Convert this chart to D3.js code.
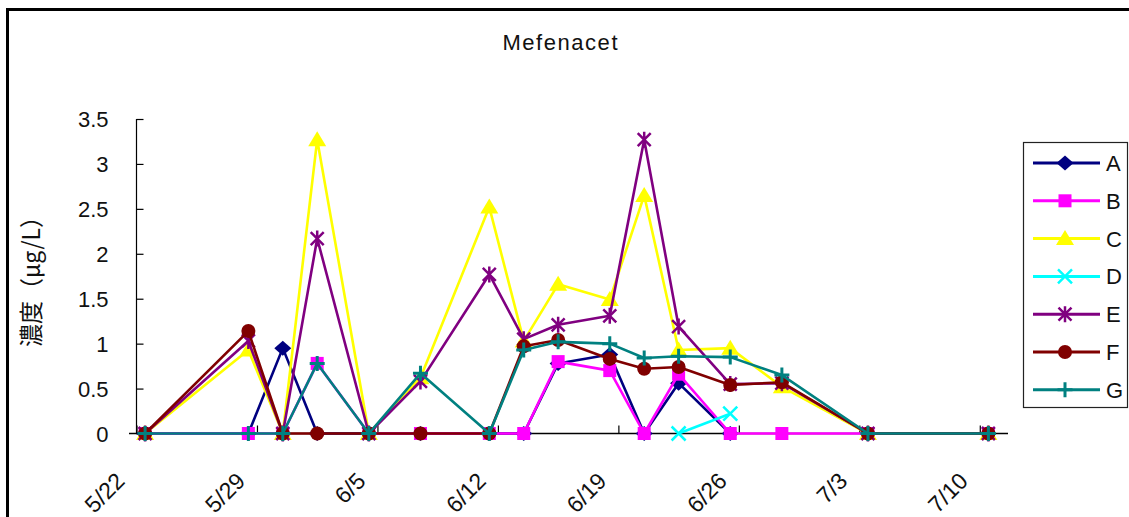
<!DOCTYPE html>
<html><head><meta charset="utf-8">
<script src="https://cdn.jsdelivr.net/npm/d3@7"></script>
<style>body{margin:0;background:#fff}svg{display:block}text{font-family:"Liberation Sans",Arial,sans-serif;fill:#111}</style>
</head><body>
<svg id="c" width="1129" height="517"></svg>
<script>
const title = "Mefenacet";
const yTitle = "濃度（μg/L）";
const dates = ["5/22","5/28","5/30","6/1","6/4","6/7","6/11","6/13","6/15","6/18","6/20","6/22","6/25","6/28","7/3","7/10"];
const seriesNames = ["A","B","C","D","E","F","G"];
const valuesA = [0,0,0.95,0,0,0,0,0,0.78,0.88,0,0.56,0,null,null,null];
const valuesB = [0,0,0,0.78,0,0,0,0,0.80,0.70,0,0.66,0,0,0,0];
const valuesC = [0,0.93,0,3.27,0,0.62,2.52,1.03,1.66,1.49,2.65,0.93,0.95,0.52,0,0];
const valuesD = [null,null,null,null,null,null,null,null,null,null,null,0,0.22,null,null,null];
const valuesE = [0,1.03,0,2.17,0,0.58,1.77,1.05,1.21,1.31,3.27,1.19,0.55,0.56,0,0];
const valuesF = [0,1.14,0,0,0,0,0,0.97,1.04,0.83,0.72,0.74,0.54,0.57,0,0];
const valuesG = [0,0,0,0.78,0,0.67,0,0.93,1.02,1.00,0.84,0.86,0.85,0.65,0,0];
const xTickLabels = ["5/22","5/29","6/5","6/12","6/19","6/26","7/3","7/10"];
const yTickValues = [0,0.5,1,1.5,2,2.5,3,3.5];

const colors = ["#000080","#ff00ff","#ffff00","#00ffff","#800080","#800000","#008080"];
const markers = ["diamond","square","triangle","x","star","circle","plus"];
const allValues = [valuesA,valuesB,valuesC,valuesD,valuesE,valuesF,valuesG];

function md(s, hour){ const [m,d]=s.split("/").map(Number); return new Date(2000,m-1,d,hour||0); }

const svg = d3.select("#c");
svg.append("rect").attr("x",7.5).attr("y",9.5).attr("width",1200).attr("height",600)
  .attr("fill","#fff").attr("stroke","#000").attr("stroke-width",3);

const dayPx = 17.21;
const x0 = 136.5;
const x = d3.scaleTime().domain([md("5/22"), md("7/12")]).range([x0, x0 + 51*dayPx]);
const y = d3.scaleLinear().domain([0,3.5]).range([433.5,119]);

// title
svg.append("text").attr("x",560).attr("y",50).attr("text-anchor","middle")
  .attr("font-size",22).attr("textLength",115).attr("lengthAdjust","spacing").text(title);

// y title
svg.append("text").attr("transform","translate(40,276) rotate(-90)").attr("text-anchor","middle")
  .attr("font-size",24).attr("textLength",142).attr("lengthAdjust","spacingAndGlyphs")
  .style("font-family","'Noto Sans CJK JP',sans-serif").attr("fill","#222").text(yTitle);

// y axis
const yAxis = d3.axisLeft(y).tickValues(yTickValues).tickSize(-7).tickPadding(28).tickFormat(d=>String(d));
const gy = svg.append("g").attr("transform",`translate(${x0},0)`).call(yAxis);
gy.select(".domain").remove();
gy.selectAll(".tick line").attr("stroke","#000").attr("stroke-width",1.2);
gy.selectAll("text").attr("font-size",22).attr("dy","0.36em").style("font-family","'Liberation Sans',Arial,sans-serif").attr("fill","#111");
svg.append("line").attr("x1",x0).attr("x2",x0).attr("y1",y(3.5)).attr("y2",y(0)).attr("stroke","#000").attr("stroke-width",1.2);

// x axis line + ticks
svg.append("line").attr("x1",129).attr("x2",1008).attr("y1",y(0)).attr("y2",y(0)).attr("stroke","#000").attr("stroke-width",1.5);
const xTickDates = xTickLabels.map(s=>md(s));
const xAxis = d3.axisBottom(x).tickValues(xTickDates).tickSize(-8).tickFormat((d,i)=>xTickLabels[i]);
const gx = svg.append("g").attr("transform",`translate(0,${y(0)})`).call(xAxis);
gx.select(".domain").remove();
gx.selectAll(".tick line").attr("stroke","#000").attr("stroke-width",1.2);
gx.selectAll("text").attr("font-size",23).attr("text-anchor","end").attr("y",0).attr("dy",0)
  .attr("transform","translate(-11,49) rotate(-45)").style("font-family","'Liberation Sans',Arial,sans-serif").attr("fill","#111");

function drawMarker(g, type, color, cx, cy, scale){
  const s = scale||1;
  if(type==="diamond"){
    g.append("path").attr("d",`M${cx},${cy-7.5*s}L${cx+8.5*s},${cy}L${cx},${cy+7.5*s}L${cx-8.5*s},${cy}Z`).attr("fill",color);
  } else if(type==="square"){
    g.append("rect").attr("x",cx-6.5*s).attr("y",cy-6.5*s).attr("width",13*s).attr("height",13*s).attr("fill",color);
  } else if(type==="triangle"){
    g.append("path").attr("d",`M${cx},${cy-8.5*s}L${cx+9*s},${cy+6.5*s}L${cx-9*s},${cy+6.5*s}Z`).attr("fill",color);
  } else if(type==="x"){
    g.append("path").attr("d",`M${cx-7*s},${cy-7*s}L${cx+7*s},${cy+7*s}M${cx-7*s},${cy+7*s}L${cx+7*s},${cy-7*s}`).attr("stroke",color).attr("stroke-width",2.5).attr("fill","none");
  } else if(type==="star"){
    g.append("path").attr("d",`M${cx-6.5*s},${cy-6.5*s}L${cx+6.5*s},${cy+6.5*s}M${cx-6.5*s},${cy+6.5*s}L${cx+6.5*s},${cy-6.5*s}M${cx},${cy-8*s}L${cx},${cy+8*s}`).attr("stroke",color).attr("stroke-width",2.5).attr("fill","none");
  } else if(type==="circle"){
    g.append("circle").attr("cx",cx).attr("cy",cy).attr("r",7*s).attr("fill",color);
  } else if(type==="plus"){
    g.append("path").attr("d",`M${cx-7.5*s},${cy}L${cx+7.5*s},${cy}M${cx},${cy-7.5*s}L${cx},${cy+7.5*s}`).attr("stroke",color).attr("stroke-width",3).attr("fill","none");
  }
}

const line = d3.line().defined(d=>d.v!=null).x(d=>x(d.date)).y(d=>y(d.v));
seriesNames.forEach((name,i)=>{
  const pts = dates.map((s,j)=>({date:md(s,12), v:allValues[i][j]}));
  const g = svg.append("g");
  g.append("path").datum(pts).attr("d",line).attr("fill","none").attr("stroke",colors[i]).attr("stroke-width",2.6).attr("stroke-linejoin","round");
  pts.filter(p=>p.v!=null).forEach(p=>drawMarker(g, markers[i], colors[i], x(p.date), y(p.v)));
});

// legend
const lg = svg.append("g");
lg.append("rect").attr("x",1023.5).attr("y",142.5).attr("width",104).attr("height",265).attr("fill","#fff").attr("stroke","#222").attr("stroke-width",1.2);
seriesNames.forEach((name,i)=>{
  const ly = 163 + i*37.8;
  lg.append("line").attr("x1",1033).attr("x2",1100).attr("y1",ly).attr("y2",ly).attr("stroke",colors[i]).attr("stroke-width",3);
  drawMarker(lg, markers[i], colors[i], 1065, ly);
  lg.append("text").attr("x",1106).attr("y",ly+8).attr("font-size",22).text(name);
});
</script>
</body></html>
